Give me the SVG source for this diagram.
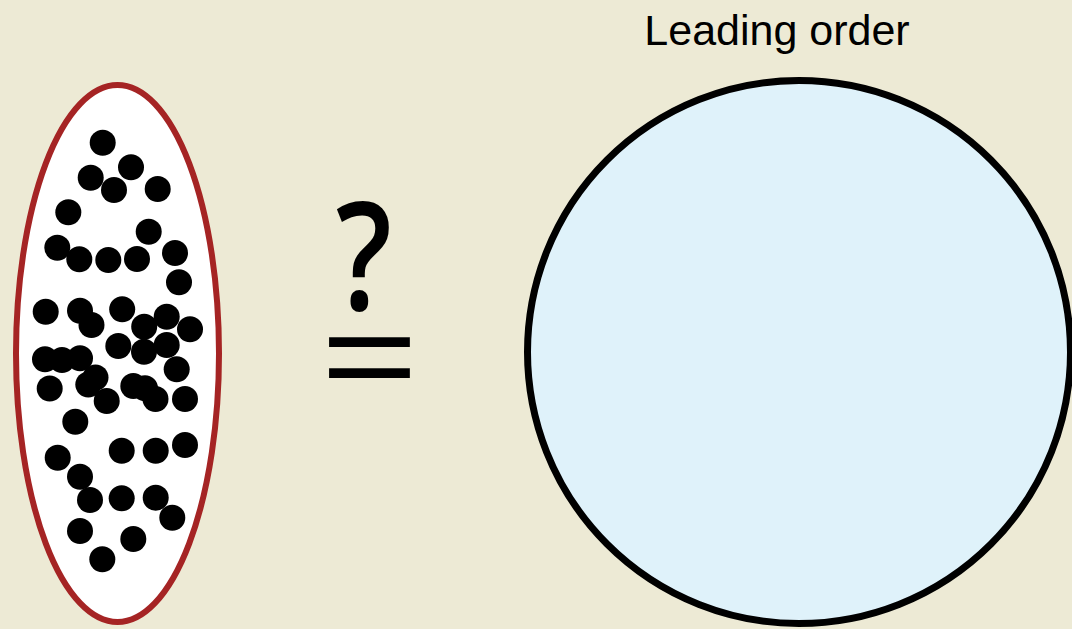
<svg xmlns="http://www.w3.org/2000/svg" width="1072" height="629" viewBox="0 0 1072 629">
<style>
.dot{fill:#000}
.lbl{font-family:"Liberation Sans",Arial,sans-serif;fill:#000}
.sym{font-family:"Open Sans","DejaVu Sans",sans-serif;fill:#000}
</style>
<rect width="1072" height="629" fill="#edead5"/>
<g id="ensemble">
<ellipse cx="117.5" cy="353.5" rx="101.5" ry="268.5" fill="#ffffff" stroke="#a52424" stroke-width="6"/>
<g id="particles">
<circle class="dot" cx="102.7" cy="142.7" r="13"/>
<circle class="dot" cx="131" cy="167.3" r="13"/>
<circle class="dot" cx="90.7" cy="177.7" r="13"/>
<circle class="dot" cx="114" cy="190" r="13"/>
<circle class="dot" cx="157.7" cy="189" r="13"/>
<circle class="dot" cx="68.3" cy="212.3" r="13"/>
<circle class="dot" cx="148.7" cy="231.7" r="13"/>
<circle class="dot" cx="57.3" cy="247.7" r="13"/>
<circle class="dot" cx="79.3" cy="259.3" r="13"/>
<circle class="dot" cx="108.3" cy="260" r="13"/>
<circle class="dot" cx="137" cy="259" r="13"/>
<circle class="dot" cx="175" cy="253" r="13"/>
<circle class="dot" cx="179" cy="282.3" r="13"/>
<circle class="dot" cx="45.7" cy="311.7" r="13"/>
<circle class="dot" cx="80" cy="310.7" r="13"/>
<circle class="dot" cx="91.5" cy="325" r="13"/>
<circle class="dot" cx="122.2" cy="309.3" r="13"/>
<circle class="dot" cx="166.7" cy="316.7" r="13"/>
<circle class="dot" cx="190" cy="329.2" r="13"/>
<circle class="dot" cx="144.2" cy="326.7" r="13"/>
<circle class="dot" cx="118.3" cy="346" r="13"/>
<circle class="dot" cx="166.7" cy="345" r="13"/>
<circle class="dot" cx="144" cy="351.7" r="13"/>
<circle class="dot" cx="45" cy="359.3" r="13"/>
<circle class="dot" cx="62" cy="360" r="13"/>
<circle class="dot" cx="80" cy="358.3" r="13"/>
<circle class="dot" cx="95.5" cy="377.5" r="13"/>
<circle class="dot" cx="88.3" cy="384.5" r="13"/>
<circle class="dot" cx="176.7" cy="369.3" r="13"/>
<circle class="dot" cx="49.7" cy="388.5" r="13"/>
<circle class="dot" cx="106.7" cy="401" r="13"/>
<circle class="dot" cx="133.3" cy="386" r="13"/>
<circle class="dot" cx="145" cy="388.3" r="13"/>
<circle class="dot" cx="155.5" cy="399" r="13"/>
<circle class="dot" cx="185" cy="399" r="13"/>
<circle class="dot" cx="75.3" cy="421.7" r="13"/>
<circle class="dot" cx="121.7" cy="450.7" r="13"/>
<circle class="dot" cx="155.7" cy="450.7" r="13"/>
<circle class="dot" cx="185" cy="445" r="13"/>
<circle class="dot" cx="57.7" cy="457.7" r="13"/>
<circle class="dot" cx="80" cy="476.7" r="13"/>
<circle class="dot" cx="90" cy="500" r="13"/>
<circle class="dot" cx="121.7" cy="498.3" r="13"/>
<circle class="dot" cx="155.7" cy="497.7" r="13"/>
<circle class="dot" cx="172.3" cy="517.7" r="13"/>
<circle class="dot" cx="80" cy="531" r="13"/>
<circle class="dot" cx="133.3" cy="539" r="13"/>
<circle class="dot" cx="102.3" cy="559.3" r="13"/>
</g>
</g>
<g id="question-equal">
<text class="sym" x="0" y="0" font-size="151" font-weight="600" text-anchor="middle" transform="translate(364,310) scale(0.82,1)">?</text>
<text x="0" y="0" font-family="'Liberation Serif','Times New Roman',serif" font-size="155" text-anchor="middle" stroke="#000" stroke-width="2" transform="translate(369.3,409) scale(1.09,1)">=</text>
</g>
<g id="leading-order">
<circle cx="799" cy="352" r="271.5" fill="#dff2fa" stroke="#000" stroke-width="7"/>
<text class="lbl" x="777" y="45" font-size="43" text-anchor="middle">Leading order</text>
</g>
<g id="connectors"/>
</svg>
